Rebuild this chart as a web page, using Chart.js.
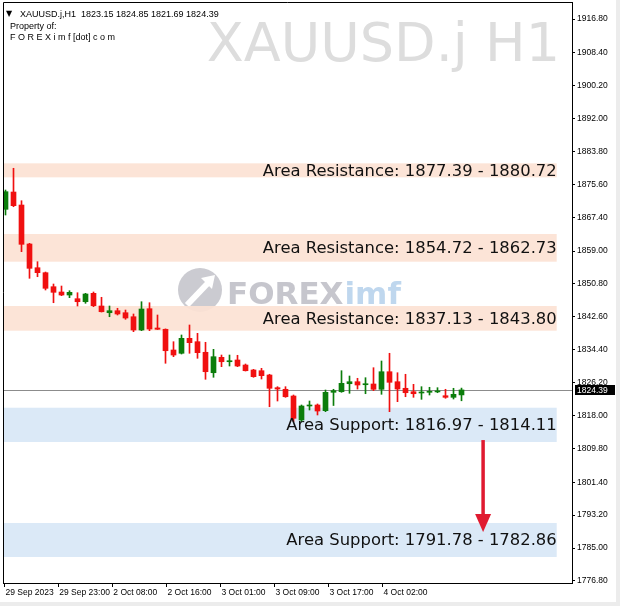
<!DOCTYPE html>
<html>
<head>
<meta charset="utf-8">
<script src="https://cdn.jsdelivr.net/npm/chart.js@4.4.0/dist/chart.umd.min.js"></script>
<style>
  html, body { margin: 0; padding: 0; background: #fff; overflow: hidden; }
  canvas { display: block; }
</style>
</head>
<body>
<canvas id="chart" width="620" height="606"></canvas>
<script>
// XAUUSD.j H1 candles (last one from the header)
const opens  = [1869.39, 1873.70, 1870.46, 1860.75, 1854.84, 1853.60, 1850.11, 1848.79, 1848.04, 1847.12,
                1846.37, 1848.46, 1845.30, 1843.63, 1844.13, 1843.63, 1842.63, 1839.32, 1844.63, 1839.82,
                1839.50, 1834.34, 1833.52, 1837.25, 1836.41, 1833.77, 1828.68, 1832.52, 1831.42, 1831.85,
                1830.60, 1829.36, 1829.18, 1828.11, 1824.95, 1824.55, 1822.88, 1816.90, 1820.39, 1820.64,
                1819.22, 1823.80, 1823.95, 1825.94, 1826.44, 1825.69, 1825.87, 1824.55, 1828.93, 1826.44,
                1824.80, 1823.95, 1823.63, 1823.80, 1823.90, 1822.95, 1822.55, 1823.15];
const highs  = [1874.20, 1879.61, 1871.53, 1860.92, 1856.34, 1853.77, 1850.78, 1850.28, 1849.11, 1848.61,
                1848.46, 1848.79, 1847.47, 1845.30, 1844.73, 1844.30, 1843.31, 1846.37, 1846.12, 1843.06,
                1839.60, 1836.41, 1838.08, 1840.57, 1838.50, 1836.26, 1834.51, 1833.09, 1833.09, 1833.02,
                1830.85, 1829.53, 1829.78, 1828.29, 1825.20, 1825.20, 1823.13, 1820.64, 1821.63, 1820.89,
                1824.37, 1824.55, 1829.18, 1827.86, 1827.29, 1827.44, 1829.93, 1831.60, 1833.52, 1828.68,
                1828.29, 1825.79, 1825.20, 1825.05, 1824.95, 1824.55, 1824.80, 1824.85];
const lows   = [1867.97, 1870.04, 1858.83, 1852.20, 1852.60, 1849.29, 1846.12, 1847.87, 1847.37, 1845.30,
                1845.97, 1845.13, 1843.80, 1842.63, 1843.06, 1841.99, 1838.90, 1839.15, 1839.15, 1839.45,
                1831.03, 1832.67, 1833.34, 1833.52, 1832.27, 1827.04, 1827.54, 1830.18, 1830.35, 1830.18,
                1829.10, 1827.54, 1827.11, 1820.21, 1821.63, 1822.55, 1816.48, 1816.48, 1819.39, 1818.15,
                1818.97, 1820.51, 1823.80, 1823.55, 1824.62, 1823.45, 1824.20, 1823.30, 1818.97, 1821.46,
                1822.70, 1822.55, 1822.05, 1823.13, 1823.70, 1822.31, 1822.13, 1821.69];
const closes = [1873.78, 1870.29, 1860.67, 1854.69, 1853.60, 1849.71, 1848.71, 1848.04, 1848.71, 1846.37,
                1848.29, 1845.37, 1843.88, 1844.13, 1843.31, 1842.31, 1839.32, 1844.55, 1839.57, 1839.50,
                1834.16, 1833.09, 1837.25, 1836.16, 1833.67, 1828.93, 1832.67, 1831.42, 1831.67, 1830.35,
                1829.18, 1827.69, 1827.94, 1824.80, 1824.62, 1822.70, 1817.32, 1820.39, 1820.56, 1819.14,
                1823.80, 1824.20, 1826.04, 1826.44, 1825.62, 1825.94, 1824.55, 1828.93, 1826.29, 1824.62,
                1823.70, 1823.45, 1823.80, 1823.95, 1824.00, 1822.55, 1823.30, 1824.39];

// time axis labels and where they sit (in bar units)
const xTickLabels = ['29 Sep 2023', '29 Sep 23:00', '2 Oct 08:00', '2 Oct 16:00',
                     '3 Oct 01:00', '3 Oct 09:00', '3 Oct 17:00', '4 Oct 02:00'];
const xTickAt = [-0.125, 6.6, 13.35, 20.125, 26.875, 33.625, 40.375, 47.125];

// price axis
const yTicks = [1916.80, 1908.40, 1900.20, 1892.00, 1883.80, 1875.60, 1867.40, 1859.00, 1850.80,
                1842.60, 1834.40, 1826.20, 1818.00, 1809.80, 1801.40, 1793.20, 1785.00, 1776.80];
const yMin = 1776.29, yMax = 1921.04;
const lastPrice = 1824.39;

// areas drawn on the chart
const zoneText   = ['Area Resistance: 1877.39 - 1880.72', 'Area Resistance: 1854.72 - 1862.73',
                    'Area Resistance: 1837.13 - 1843.80', 'Area Support: 1816.97 - 1814.11',
                    'Area Support: 1791.78 - 1782.86'];
const zoneTop    = [1880.85, 1863.24, 1845.30, 1819.96, 1791.24];
const zoneBottom = [1877.36, 1856.34, 1839.15, 1811.42, 1782.77];
const zoneKind   = ['res', 'res', 'res', 'sup', 'sup'];

// arrow from support 1 down to support 2
const arrowAt = 59.7, arrowFrom = 1811.9, arrowTo = 1789.0;

const idx = opens.map((_, i) => i);
const candleColor = idx.map(i => closes[i] >= opens[i] ? '#0b7d0b' : '#f01010');

const ZONE_END = 68.9; // bands stop short of the price axis

const decor = {
  id: 'decor',
  beforeDraw(chart) {
    const c = chart.ctx;
    c.save();
    c.fillStyle = '#fff';
    c.fillRect(0, 0, chart.width, chart.height);
    c.fillStyle = '#ececec';
    c.fillRect(616, 0, 4, chart.height);
    c.fillRect(0, 602, chart.width, 4);
    c.restore();
  },
  beforeDatasetsDraw(chart) {
    const { ctx: c, chartArea: a, scales: { x, y } } = chart;
    c.save();
    c.beginPath();
    c.rect(a.left, a.top, a.right - a.left, a.bottom - a.top);
    c.clip();

    // symbol watermark
    c.font = '54px "DejaVu Sans"';
    c.fillStyle = '#dddddd';
    c.textAlign = 'right';
    c.textBaseline = 'alphabetic';
    c.fillText('XAUUSD.j H1', 560, 61);

    // FOREXimf logo watermark
    c.fillStyle = '#cbcbd1';
    c.beginPath();
    c.arc(200, 290, 22, 0, Math.PI * 2);
    c.fill();
    c.strokeStyle = '#fff';
    c.lineWidth = 6;
    c.beginPath();
    c.moveTo(187, 305);
    c.lineTo(209, 282);
    c.stroke();
    c.fillStyle = '#fff';
    c.beginPath();
    c.moveTo(215, 275);
    c.lineTo(201, 278);
    c.lineTo(212, 289);
    c.closePath();
    c.fill();
    c.textAlign = 'left';
    c.font = 'bold 31px "DejaVu Sans"';
    c.fillStyle = '#c6c6cd';
    c.fillText('FOREX', 227, 304);
    const w = c.measureText('FOREX').width;
    c.fillStyle = '#bfd7ee';
    c.fillText('imf', 227 + w + 1, 304);

    // zones
    const xe = x.getPixelForValue(ZONE_END);
    zoneTop.forEach((t, i) => {
      const y1 = y.getPixelForValue(t), y2 = y.getPixelForValue(zoneBottom[i]);
      c.fillStyle = zoneKind[i] === 'res' ? 'rgba(252,226,212,0.92)' : '#dbe9f7';
      c.fillRect(a.left, y1, xe - a.left, y2 - y1);
    });

    // bid line
    const yb = Math.round(y.getPixelForValue(lastPrice)) + 0.5;
    c.strokeStyle = '#8c8c8c';
    c.lineWidth = 1;
    c.beginPath();
    c.moveTo(a.left, yb);
    c.lineTo(a.right, yb);
    c.stroke();
    c.restore();
  },
  afterDatasetsDraw(chart) {
    const { ctx: c, chartArea: a, scales: { x, y } } = chart;
    c.save();
    // zone captions
    const xe = x.getPixelForValue(ZONE_END);
    c.font = '16.4px "DejaVu Sans"';
    c.fillStyle = '#111';
    c.textAlign = 'right';
    c.textBaseline = 'middle';
    zoneText.forEach((t, i) => {
      const ym = (y.getPixelForValue(zoneTop[i]) + y.getPixelForValue(zoneBottom[i])) / 2;
      c.fillText(t, xe, ym + 1);
    });

    // red arrow
    const ax = x.getPixelForValue(arrowAt);
    const y0 = y.getPixelForValue(arrowFrom), y1 = y.getPixelForValue(arrowTo);
    c.strokeStyle = '#e01a30';
    c.fillStyle = '#e01a30';
    c.lineWidth = 3.5;
    c.beginPath();
    c.moveTo(ax, y0);
    c.lineTo(ax, y1 - 16);
    c.stroke();
    c.beginPath();
    c.moveTo(ax - 8, y1 - 18);
    c.lineTo(ax + 8, y1 - 18);
    c.lineTo(ax, y1);
    c.closePath();
    c.fill();

    // header
    c.fillStyle = '#000';
    c.textAlign = 'left';
    c.textBaseline = 'alphabetic';
    c.font = '8px "DejaVu Sans"';
    c.fillText('\u25BC', 6, 16);
    c.font = '9px "Liberation Sans"';
    c.fillText('XAUUSD.j,H1  1823.15 1824.85 1821.69 1824.39', 20, 16.5);
    c.fillText('Property of:', 10, 28.5);
    c.fillText('F O R E X i m f [dot] c o m', 10, 39.5);

    // frame, left and top
    c.strokeStyle = '#000';
    c.lineWidth = 1;
    c.beginPath();
    c.moveTo(a.left + 0.5, a.bottom);
    c.lineTo(a.left + 0.5, a.top + 0.5);
    c.lineTo(a.right, a.top + 0.5);
    c.stroke();
    c.restore();
  },
  afterDraw(chart) {
    const { ctx: c, chartArea: a, scales: { y } } = chart;
    const yp = Math.round(y.getPixelForValue(lastPrice));
    c.save();
    c.fillStyle = '#000';
    c.fillRect(a.right + 3, yp - 5, 40, 10);
    c.fillStyle = '#fff';
    c.font = '8.5px "Liberation Sans"';
    c.textAlign = 'left';
    c.textBaseline = 'middle';
    c.fillText(lastPrice.toFixed(2), a.right + 5, yp + 0.5);
    c.restore();
  }
};

new Chart(document.getElementById('chart').getContext('2d'), {
  type: 'bar',
  data: {
    datasets: [
      {
        label: 'wick',
        data: idx.map(i => ({ x: i, y: [lows[i], highs[i]] })),
        backgroundColor: candleColor,
        barThickness: 1,
        grouped: false,
        order: 2
      },
      {
        label: 'body',
        data: idx.map(i => ({ x: i, y: [opens[i], closes[i]] })),
        backgroundColor: candleColor,
        barThickness: 5,
        minBarLength: 1,
        grouped: false,
        order: 1
      }
    ]
  },
  options: {
    responsive: false,
    animation: false,
    events: [],
    layout: { padding: { left: 3, top: 2, right: 0, bottom: 0 } },
    plugins: { legend: { display: false }, tooltip: { enabled: false } },
    scales: {
      x: {
        type: 'linear',
        min: -0.3125,
        max: 70.8125,
        offset: false,
        grid: { drawOnChartArea: false, drawTicks: true, tickLength: 4, color: '#000', offset: false },
        border: { display: true, color: '#000' },
        ticks: {
          autoSkip: false,
          maxRotation: 0,
          align: 'start',
          padding: 1,
          labelOffset: 1,
          color: '#000',
          font: { family: 'Liberation Sans', size: 8.5 },
          callback: (v, i) => xTickLabels[i]
        },
        afterBuildTicks: s => { s.ticks = xTickAt.map(v => ({ value: v })); },
        afterFit: s => { s.height = 23; s.paddingLeft = 0; s.paddingRight = 0; }
      },
      y: {
        type: 'linear',
        position: 'right',
        min: yMin,
        max: yMax,
        grid: { drawOnChartArea: false, drawTicks: true, tickLength: 3, color: '#000' },
        border: { display: true, color: '#000' },
        ticks: {
          padding: 2,
          color: '#000',
          font: { family: 'Liberation Sans', size: 8.5 },
          callback: v => v.toFixed(2)
        },
        afterBuildTicks: s => { s.ticks = yTicks.map(v => ({ value: v })); },
        afterFit: s => { s.width = 48; s.paddingTop = 0; s.paddingBottom = 0; }
      }
    }
  },
  plugins: [decor]
});
</script>
</body>
</html>
